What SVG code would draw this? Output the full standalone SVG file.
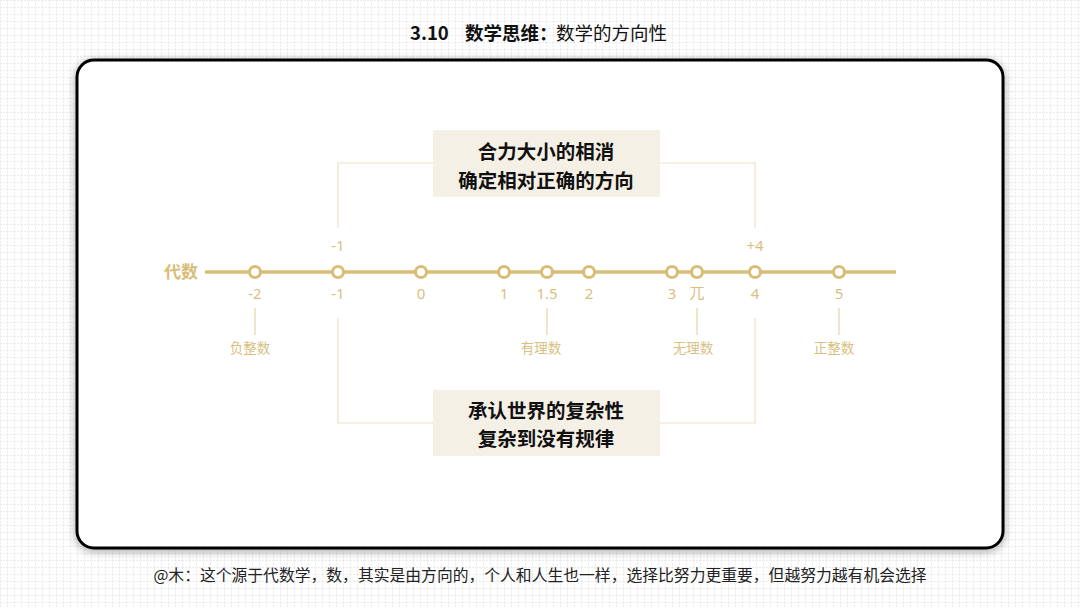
<svg xmlns="http://www.w3.org/2000/svg" width="1080" height="608" viewBox="0 0 1080 608">
<defs>
<pattern id="grid" width="7" height="7" patternUnits="userSpaceOnUse">
<path d="M0 0.5H7M0.5 0V7" stroke="#ececec" stroke-width="1" stroke-dasharray="2 1" fill="none"/>
</pattern>
<filter id="sh" x="-10%" y="-10%" width="120%" height="120%">
<feGaussianBlur in="SourceAlpha" stdDeviation="5"/>
<feOffset dx="0" dy="2"/>
<feComponentTransfer><feFuncA type="linear" slope="0.35"/></feComponentTransfer>
<feMerge><feMergeNode/><feMergeNode in="SourceGraphic"/></feMerge>
</filter>
</defs>
<style>
.f{font-family:"Noto Sans CJK SC","Noto Sans",sans-serif}
.dot{fill:#fff;stroke:#d8bd76;stroke-width:3}
.num{font-family:"Noto Sans","Noto Sans CJK SC",sans-serif;font-size:15px;fill:#d8bf82;text-anchor:middle}
.cat{font-size:13.5px;fill:#d8bf82;text-anchor:middle}
.br{fill:none;stroke:#ede2c6;stroke-width:1.2}
.tick{stroke:#e6d4a6;stroke-width:1.2}
.box{fill:#f5f0e5}
.bt{font-size:19.5px;font-weight:bold;fill:#111;text-anchor:middle}
</style>
<rect width="1080" height="608" fill="#fff"/>
<rect width="1080" height="608" fill="url(#grid)"/>
<g id="title" class="f" font-size="18.5" fill="#111">
<text x="410" y="40" font-weight="bold">3.10</text>
<text x="465" y="40" font-weight="bold">数学思维：</text>
<text x="556" y="40">数学的方向性</text>
</g>
<rect x="77" y="60" width="926" height="488" rx="17" fill="#fff" stroke="#000" stroke-width="3" filter="url(#sh)"/>
<g id="connectors">
<polyline class="br" points="338,228 338,163 433,163"/>
<polyline class="br" points="660,163 755,163 755,228"/>
<polyline class="br" points="338,318 338,423 433,423"/>
<polyline class="br" points="660,423 755,423 755,318"/>
<line class="tick" x1="255" y1="308" x2="255" y2="335"/>
<line class="tick" x1="547" y1="308" x2="547" y2="335"/>
<line class="tick" x1="697" y1="308" x2="697" y2="335"/>
<line class="tick" x1="839" y1="308" x2="839" y2="335"/>
</g>
<g id="axis">
<text class="f" x="181" y="278" text-anchor="middle" font-size="17" font-weight="bold" fill="#d8bd76">代数</text>
<line x1="205" y1="272" x2="896" y2="272" stroke="#d8bd76" stroke-width="3.5"/>
<circle class="dot" cx="255" cy="272" r="5.5"/>
<circle class="dot" cx="338" cy="272" r="5.5"/>
<circle class="dot" cx="421" cy="272" r="5.5"/>
<circle class="dot" cx="504" cy="272" r="5.5"/>
<circle class="dot" cx="547" cy="272" r="5.5"/>
<circle class="dot" cx="589" cy="272" r="5.5"/>
<circle class="dot" cx="672" cy="272" r="5.5"/>
<circle class="dot" cx="697" cy="272" r="5.5"/>
<circle class="dot" cx="755" cy="272" r="5.5"/>
<circle class="dot" cx="839" cy="272" r="5.5"/>
<text class="num" x="338" y="251">-1</text>
<text class="num" x="755" y="251">+4</text>
<text class="num" x="255" y="299">-2</text>
<text class="num" x="338" y="299">-1</text>
<text class="num" x="421" y="299">0</text>
<text class="num" x="504" y="299">1</text>
<text class="num" x="547" y="299">1.5</text>
<text class="num" x="589" y="299">2</text>
<text class="num" x="672" y="299">3</text>
<text class="num f" x="697" y="298">兀</text>
<text class="num" x="755" y="299">4</text>
<text class="num" x="839" y="299">5</text>
<text class="cat f" x="250" y="353">负整数</text>
<text class="cat f" x="541" y="353">有理数</text>
<text class="cat f" x="693" y="353">无理数</text>
<text class="cat f" x="834" y="353">正整数</text>
</g>
<g id="top-box">
<rect class="box" x="433" y="130" width="227" height="67"/>
<text class="f bt" x="546" y="159">合力大小的相消</text>
<text class="f bt" x="546" y="188">确定相对正确的方向</text>
</g>
<g id="bottom-box">
<rect class="box" x="433" y="390" width="227" height="66"/>
<text class="f bt" x="546" y="418">承认世界的复杂性</text>
<text class="f bt" x="546" y="446">复杂到没有规律</text>
</g>
<text class="f" x="540" y="581" text-anchor="middle" font-size="15.8" fill="#222">@木：这个源于代数学，数，其实是由方向的，个人和人生也一样，选择比努力更重要，但越努力越有机会选择</text>
</svg>
